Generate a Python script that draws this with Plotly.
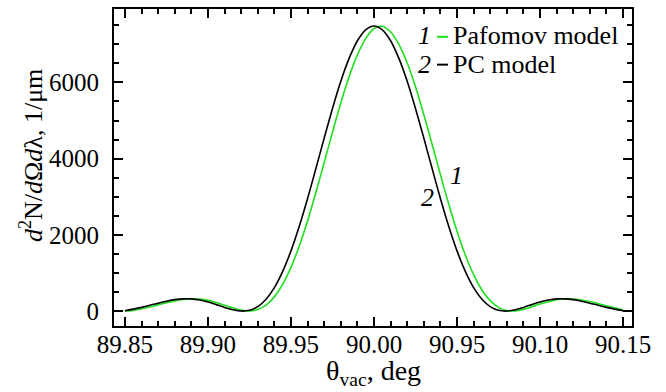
import plotly.graph_objects as go

# angle grid (deg)
theta = [round(89.85 + 0.005 * i, 3) for i in range(61)]

# curve 2: PC model (black)
pc_model = [10, 52, 98, 151, 208, 260, 301, 322, 320, 292, 238, 170, 97, 33, 1, 21,
            119, 312, 616, 1041, 1581, 2226, 2955, 3740, 4540, 5316, 6029, 6630, 7093, 7382,
            7480,
            7382, 7093, 6630, 6029, 5316, 4540, 3740, 2955, 2226, 1581, 1041, 616, 312, 119, 21,
            1, 33, 97, 170, 238, 292, 320, 322, 301, 260, 208, 151, 98, 52, 10]

# curve 1: Pafomov model (green)
pafomov_model = [3, 18, 62, 108, 163, 218, 268, 305, 322, 314, 282, 224, 155, 85, 27, 5,
                 41, 157, 373, 701, 1149, 1710, 2372, 3112, 3900, 4695, 5459, 6149, 6723, 7150,
                 7415,
                 7476, 7325, 7000, 6510, 5886, 5161, 4380, 3583, 2809, 2097, 1473, 956, 555, 274, 99,
                 15, 7, 45, 112, 184, 248, 298, 320, 318, 293, 250, 196, 141, 88, 35]

x_tickvals = [89.85, 89.90, 89.95, 90.00, 90.05, 90.10, 90.15]
x_ticktext = ["89.85", "89.90", "89.95", "90.00", "90.95", "90.10", "90.15"]
y_tickvals = [0, 2000, 4000, 6000]

GREEN = "#1ee01e"
FONT = "Liberation Serif"

# plot frame in pixels
L, R, T, B = 114, 632, 7, 326
W, H = 666, 392
def px(x):
    return (x - L) / (R - L)
def py(y):
    return (B - y) / (B - T)

fig = go.Figure()
fig.add_trace(go.Scatter(x=theta, y=pafomov_model, mode="lines",
                         line=dict(color=GREEN, width=1.6, shape="spline", smoothing=0.8),
                         showlegend=False))
fig.add_trace(go.Scatter(x=theta, y=pc_model, mode="lines",
                         line=dict(color="black", width=1.6, shape="spline", smoothing=0.8),
                         showlegend=False))

axis_common = dict(showline=True, linecolor="black", linewidth=2, mirror="allticks",
                   ticks="inside", ticklen=9, tickwidth=1.5, tickcolor="black",
                   showgrid=False, zeroline=False,
                   tickfont=dict(family=FONT, size=25, color="black"))

fig.update_xaxes(range=[89.8434, 90.1554], tickvals=x_tickvals, ticktext=x_ticktext,
                 minor=dict(dtick=0.01, tick0=89.85, ticks="inside", ticklen=5,
                            tickwidth=1.5, tickcolor="black"),
                 ticklabelstandoff=-5,
                 **axis_common)
fig.update_yaxes(range=[-391, 7927], tickvals=y_tickvals,
                 minor=dict(dtick=500, tick0=0, ticks="inside", ticklen=5,
                            tickwidth=1.5, tickcolor="black"),
                 ticklabelstandoff=8,
                 **axis_common)

ann_font = dict(family=FONT, size=26, color="black")
annotations = [
    dict(x=px(433), y=py(34), text="<i>1</i>", xanchor="right"),
    dict(x=px(451), y=py(34), text="Pafomov model", xanchor="left"),
    dict(x=px(433), y=py(63), text="<i>2</i>", xanchor="right"),
    dict(x=px(451), y=py(63), text="PC model", xanchor="left"),
    dict(x=px(456), y=py(175), text="<i>1</i>", xanchor="center"),
    dict(x=px(427), y=py(197), text="<i>2</i>", xanchor="center"),
    dict(x=px(373), y=py(373), text="θ<sub>vac</sub>, deg", xanchor="center",
         font=dict(family=FONT, size=28, color="black")),
    dict(x=px(31), y=py(155), text="<i>d</i><sup>2</sup>N/<i>d</i>Ω<i>d</i>λ, 1/μm",
         xanchor="center", textangle=-90, font=dict(family=FONT, size=26, color="black")),
]
for a in annotations:
    a.setdefault("font", ann_font)
    a.update(xref="paper", yref="paper", yanchor="middle", showarrow=False)

shapes = [
    dict(type="line", xref="paper", yref="paper", x0=px(437), x1=px(448), y0=py(35), y1=py(35),
         line=dict(color=GREEN, width=2)),
    dict(type="line", xref="paper", yref="paper", x0=px(437), x1=px(448), y0=py(63), y1=py(63),
         line=dict(color="black", width=2)),
]

fig.update_layout(width=W, height=H, margin=dict(l=L, r=W - R, t=T, b=H - B),
                  paper_bgcolor="white", plot_bgcolor="white",
                  annotations=annotations, shapes=shapes,
                  font=dict(family=FONT, color="black"))

fig.write_html("out.html")
